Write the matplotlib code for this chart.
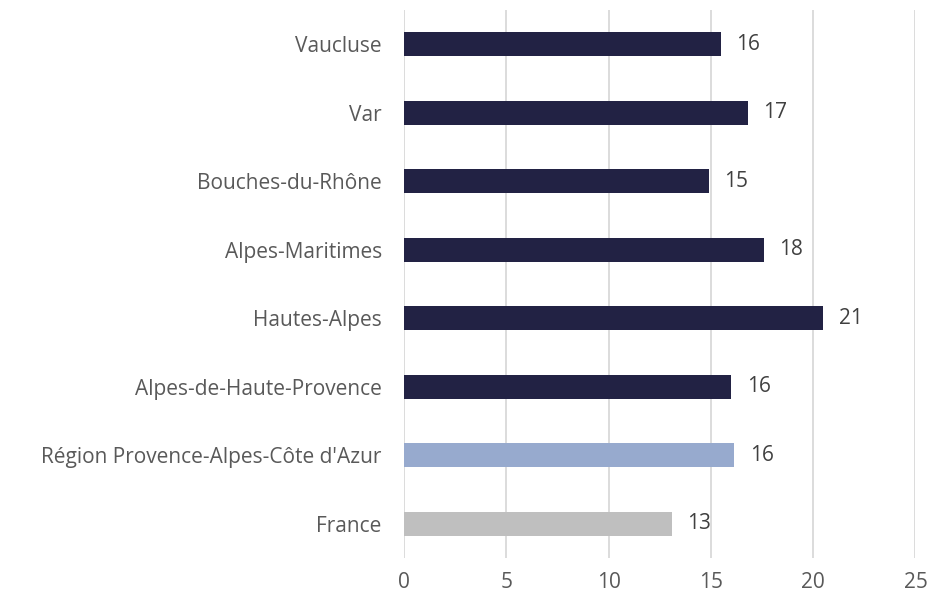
import matplotlib
matplotlib.use("Agg")
import matplotlib.pyplot as plt

categories = ["France", "Région Provence-Alpes-Côte d'Azur", "Alpes-de-Haute-Provence",
              "Hautes-Alpes", "Alpes-Maritimes", "Bouches-du-Rhône", "Var", "Vaucluse"]
values = [13.1, 16.15, 16.0, 20.5, 17.6, 14.9, 16.8, 15.5]
labels = ["13", "16", "16", "21", "18", "15", "17", "16"]
colors = ["#BFBFBF", "#97AACE", "#222244", "#222244", "#222244", "#222244", "#222244", "#222244"]
xticks = [0, 5, 10, 15, 20, 25]

plt.rcParams['font.family'] = ['Open Sans', 'DejaVu Sans']

fig = plt.figure(figsize=(9.30, 5.96), dpi=100)
ax = fig.add_axes([0.4344, 0.0638, 0.5500, 0.9195])

y = list(range(len(categories)))
ax.barh(y, values, height=0.35, color=colors, zorder=3)
for yi, v, lab in zip(y, values, labels):
    ax.text(v + 0.75, yi, lab, va='center', ha='left', fontsize=15, color='#404040')

ax.set_xlim(0, 25)
ax.set_ylim(-0.5, 7.5)
ax.set_xticks(xticks)
ax.set_xticklabels([str(t) for t in xticks])
ax.set_yticks(y)
ax.set_yticklabels(categories)
ax.tick_params(axis='both', length=0, labelsize=15, colors='#595959')
ax.tick_params(axis='y', pad=16)
ax.tick_params(axis='x', pad=10)
ax.grid(axis='x', color='#D9D9D9', linewidth=1.3, zorder=0)
for s in ax.spines.values():
    s.set_visible(False)

fig.savefig("out.png", dpi=100)
